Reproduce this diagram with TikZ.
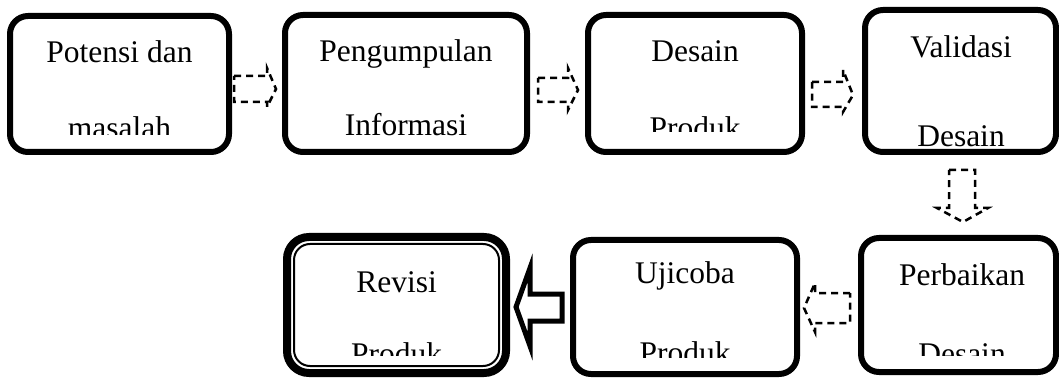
\documentclass[tikz,border=0pt]{standalone}
\usepackage{fontspec}
\setmainfont{Liberation Serif}
\begin{document}
\begin{tikzpicture}[x=1pt,y=-1pt,
  box/.style={draw, line width=6pt, rounded corners=18pt, inner sep=0pt},
  lbl/.style={anchor=base, inner sep=0pt, font=\fontsize{31.5}{38}\selectfont},
  darr/.style={draw, line width=2.5pt, dash pattern=on 7pt off 5pt, line join=miter},
  sarr/.style={draw, line width=5pt, line join=miter},
]
\clip (0,0) rectangle (1059,379);
% top row boxes
\node[box, minimum width=219pt, minimum height=136pt] (b1) at (119.5,84) {};
\node[box, minimum width=242pt, minimum height=137pt] (b2) at (406,83.5) {};
\node[box, minimum width=214pt, minimum height=137pt] (b3) at (695,83.5) {};
\node[box, minimum width=191pt, minimum height=142pt] (b4) at (960.5,81) {};
% bottom row boxes
\node[box, minimum width=195pt, minimum height=134pt] (b5) at (958.5,305) {};
\node[box, minimum width=224pt, minimum height=134pt] (b6) at (685,307) {};
\node[box, line width=8pt, rounded corners=22pt, minimum width=219pt, minimum height=136pt] (b7) at (396.5,305) {};
\node[box, line width=2pt, rounded corners=16pt, minimum width=205pt, minimum height=122pt] (b7i) at (396.5,305) {};
% texts (clipped like text boxes)
\begin{scope}
\clip (10,16) rectangle (229,135);
\node[lbl] (t1a) at (119.5,63) {Potensi dan};
\node[lbl] (t1b) at (119.5,139) {masalah};
\end{scope}
\begin{scope}
\clip (285,15) rectangle (527,150);
\node[lbl] (t2a) at (406,62) {Pengumpulan};
\node[lbl] (t2b) at (406,136) {Informasi};
\end{scope}
\begin{scope}
\clip (588,15) rectangle (802,132);
\node[lbl] (t3a) at (695,62) {Desain};
\node[lbl] (t3b) at (695,139) {Produk};
\end{scope}
\begin{scope}
\clip (865,10) rectangle (1056,150);
\node[lbl] (t4a) at (961,58) {Validasi};
\node[lbl] (t4b) at (961,147) {Desain};
\end{scope}
\begin{scope}
\clip (861,238) rectangle (1056,355);
\node[lbl] (t5a) at (962,285) {Perbaikan};
\node[lbl] (t5b) at (962,364) {Desain};
\end{scope}
\begin{scope}
\clip (573,240) rectangle (797,357);
\node[lbl] (t6a) at (685,283) {Ujicoba};
\node[lbl] (t6b) at (685,363) {Produk};
\end{scope}
\begin{scope}
\clip (294,244) rectangle (499,355);
\node[lbl] (t7a) at (396.5,292) {Revisi};
\node[lbl] (t7b) at (396.5,364) {Produk};
\end{scope}
% dashed block arrows
\draw[darr] (234,76) -- (267,76) -- (267,68) -- (276,89) -- (267,107) -- (267,102) -- (234,102) -- cycle;
\draw[darr] (538,78) -- (568,78) -- (568,68) -- (578,90) -- (568,110) -- (568,102) -- (538,102) -- cycle;
\draw[darr] (812,82) -- (843,82) -- (843,70) -- (853,95) -- (843,112) -- (843,107) -- (812,107) -- cycle;
\draw[darr] (949,170) -- (975,170) -- (975,208) -- (988,208) -- (963,222) -- (937,208) -- (949,208) -- cycle;
\draw[darr] (850,293) -- (815,293) -- (815,283) -- (804,308) -- (815,332) -- (815,323) -- (850,323) -- cycle;
% solid block arrow
\draw[sarr] (562,294) -- (530,294) -- (530,268) -- (516,307) -- (530,346) -- (530,321) -- (562,321) -- cycle;
\end{tikzpicture}
\end{document}
